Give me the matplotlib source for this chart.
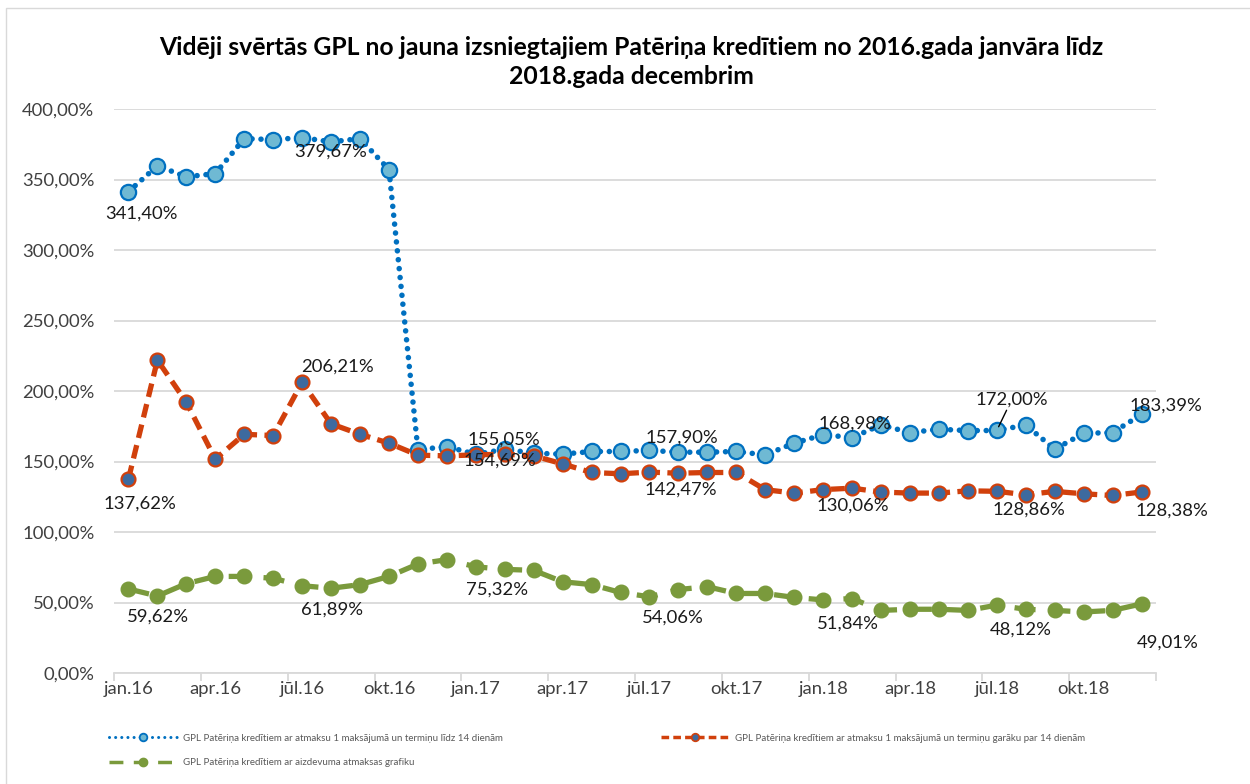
import matplotlib
matplotlib.use("Agg")
import matplotlib.pyplot as plt
from matplotlib.lines import Line2D
from matplotlib.patches import Rectangle

plt.rcParams['font.family'] = ['Lato', 'DejaVu Sans']

# month labels shown on the x axis (every 3rd month)
tick_labels = ['jan.16', 'apr.16', 'jūl.16', 'okt.16',
               'jan.17', 'apr.17', 'jūl.17', 'okt.17',
               'jan.18', 'apr.18', 'jūl.18', 'okt.18']

# jan.2016 .. dec.2018, GPL in %
short_14 = [341.40, 359.7, 351.9, 354.2, 379.0, 378.3, 379.67, 376.7, 379.0, 357.0, 158.3, 160.6,
            155.05, 158.7, 155.9, 155.2, 157.1, 157.1, 157.90, 156.6, 156.6, 157.1, 154.7, 163.0,
            168.98, 167.0, 175.9, 170.5, 172.9, 171.9, 172.00, 175.9, 158.7, 170.0, 170.5, 183.39]
long_14 = [137.62, 221.9, 192.0, 151.7, 169.3, 168.4, 206.21, 176.7, 169.3, 163.0, 154.5, 154.0,
           154.69, 155.2, 154.0, 148.3, 142.2, 141.3, 142.47, 141.7, 142.2, 142.2, 130.0, 127.6,
           130.06, 131.1, 128.3, 127.6, 127.6, 129.2, 128.86, 126.4, 128.8, 127.1, 125.9, 128.38]
schedule = [59.62, 54.6, 63.4, 68.5, 68.5, 67.2, 61.89, 60.1, 62.7, 68.5, 77.3, 80.4,
            75.32, 73.5, 72.8, 64.7, 62.7, 57.1, 54.06, 59.2, 61.2, 56.4, 56.4, 53.6,
            51.84, 52.8, 44.4, 45.2, 45.2, 44.4, 48.12, 45.2, 44.4, 43.3, 44.4, 49.01]

names = ['GPL Patēriņa kredītiem ar atmaksu 1 maksājumā un termiņu līdz 14 dienām',
         'GPL Patēriņa kredītiem ar atmaksu 1 maksājumā un termiņu garāku par 14 dienām',
         'GPL Patēriņa kredītiem ar aizdevuma atmaksas grafiku']

# which months get a data label
label_idx = [0, 6, 12, 18, 24, 30, 35]

# label offsets in pixels (dx, dy)
off_blue = [(13, -22), (29, -14), (28, 15), (32, 13), (32, 11), (15, 31), (24, 9)]
off_red = [(12, -25), (35, 16), (24, -6), (31, -18), (30, -16), (32, -18), (30, -19)]
off_green = [(30, -28), (30, -24), (21, -23), (23, -21), (25, -24), (24, -24), (26, -39)]

BLUE, LBLUE = '#0070C0', '#6FB9D3'
RED, DBLUE = '#D1400C', '#3D6A9F'
GREEN = '#7A9A3C'

x = list(range(len(short_14)))

fig = plt.figure(figsize=(12.5, 7.84), dpi=100)
ax = fig.add_axes([114 / 1250, 1 - 673 / 784, (1156 - 114) / 1250, (673 - 109) / 784])

ax.plot(x, short_14, color=BLUE, lw=4, linestyle=(0, (0.01, 1.6)),
        dash_capstyle='round', marker='o', ms=11, mfc=LBLUE, mec=BLUE, mew=1.6, zorder=3)
ax.plot(x, long_14, color=RED, lw=3.8, linestyle=(0, (2.6, 1.4)),
        marker='o', ms=10, mfc=DBLUE, mec=RED, mew=1.6, zorder=4)
ax.plot(x, schedule, color=GREEN, lw=3.8, linestyle=(0, (4.0, 2.6)),
        marker='o', ms=10.5, mfc=GREEN, mec=GREEN, zorder=5)

def fmt(v):
    return f"{v:.2f}".replace('.', ',') + '%'

for series, offs in [(short_14, off_blue), (long_14, off_red), (schedule, off_green)]:
    for i, (dx, dy) in zip(label_idx, offs):
        arrow = None
        if series is short_14 and i == 30:
            arrow = dict(arrowstyle='-', color='black', lw=1, shrinkA=0, shrinkB=3)
        ax.annotate(fmt(series[i]), (i, series[i]), xytext=(dx, dy),
                    textcoords='offset pixels', ha='center', va='center',
                    fontsize=13.3, color='#1a1a1a', zorder=10, arrowprops=arrow)

ax.set_xlim(-0.5, 35.5)
ax.set_ylim(0, 400)
ax.set_yticks(range(0, 401, 50))
ax.set_yticklabels([fmt(v) for v in range(0, 401, 50)])
ax.set_xticks(range(0, 36, 3))
ax.set_xticklabels(tick_labels)
ax.set_xticks([i - 0.5 for i in range(0, 37, 3)], minor=True)
ax.tick_params(axis='x', which='major', length=0, pad=6, labelsize=13.3, labelcolor='#404040')
ax.tick_params(axis='x', which='minor', length=6, color='#D9D9D9', width=1.3)
ax.tick_params(axis='y', length=0, pad=14, labelsize=13.3, labelcolor='#404040')

ax.grid(axis='y', color='#D9D9D9', lw=1.3)
ax.set_axisbelow(True)
for s in ['top', 'right', 'left']:
    ax.spines[s].set_visible(False)
ax.spines['bottom'].set_color('#D9D9D9')
ax.spines['bottom'].set_linewidth(1.3)

fig.text(631 / 1250, 1 - 62 / 784,
         'Vidēji svērtās GPL no jauna izsniegtajiem Patēriņa kredītiem no 2016.gada janvāra līdz\n2018.gada decembrim',
         ha='center', va='center', fontsize=17.8, fontweight='bold', linespacing=1.35)

# smaller copies of the series styles for the legend
h1 = Line2D([], [], color=BLUE, lw=2.2, linestyle=(0, (0.01, 2.0)), dash_capstyle='round',
            marker='o', ms=5.5, mfc=LBLUE, mec=BLUE, mew=1.3)
h2 = Line2D([], [], color=RED, lw=2.5, linestyle=(0, (2.2, 1.2)),
            marker='o', ms=5.5, mfc=DBLUE, mec=RED, mew=1.2)
h3 = Line2D([], [], color=GREEN, lw=2.5, linestyle=(0, (4.0, 3.0)),
            marker='o', ms=6, mfc=GREEN, mec=GREEN)
fig.legend([h1, h3, h2], [names[0], names[2], names[1]], ncol=2,
           loc='upper left', bbox_to_anchor=(100 / 1250, 1 - 725 / 784),
           frameon=False, fontsize=7, handlelength=7, columnspacing=16.3,
           labelspacing=1.6, handletextpad=0.6, labelcolor='#595959')

# thin chart border
fig.patches.append(Rectangle((6 / 1250, -0.1), 1.2, 1 - 8 / 784 + 0.1, transform=fig.transFigure,
                             fill=False, edgecolor='#D9D9D9', lw=1))

fig.savefig('out.png', dpi=100)
